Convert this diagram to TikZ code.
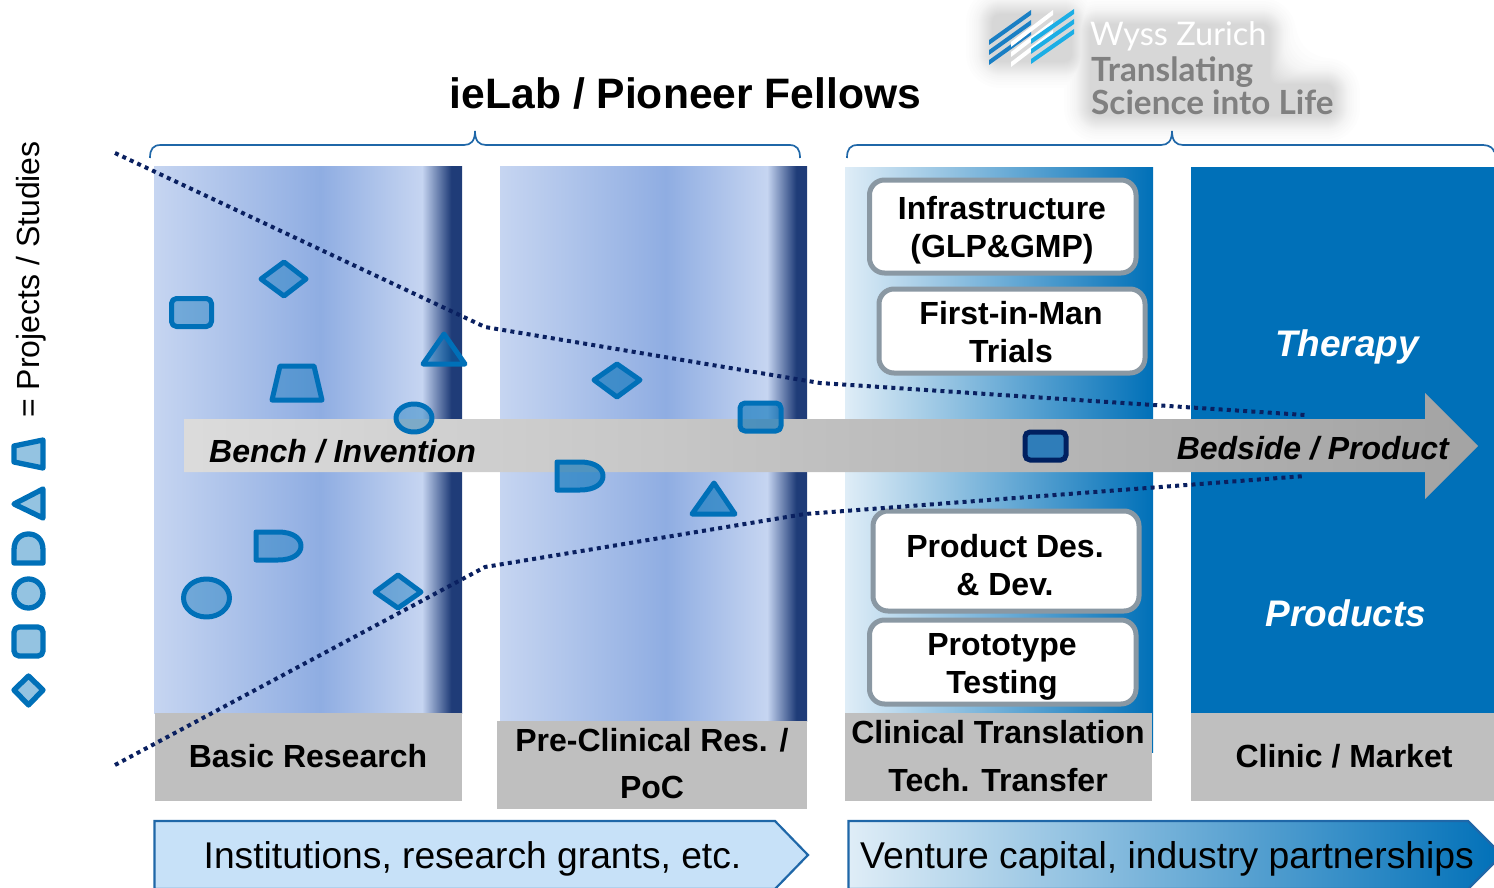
\documentclass[tikz,border=0pt]{standalone}
\usepackage{fontspec}
\setmainfont{Liberation Sans}
\newfontfamily\logofont{Lato}
\usetikzlibrary{calc}
\definecolor{blu}{HTML}{0070B8}
\definecolor{navy}{HTML}{0A2060}
\definecolor{darkedge}{HTML}{002060}
\definecolor{darkfill}{HTML}{2F7DB9}
\definecolor{graylab}{HTML}{BFBFBF}
\definecolor{boxedge}{HTML}{8A98A3}
\definecolor{bracecol}{HTML}{1F67A8}
\definecolor{collight}{HTML}{C6D5F1}
\definecolor{colmid}{HTML}{8FADE2}
\definecolor{coldark}{HTML}{1F3C78}
\definecolor{transl}{HTML}{DFEDF7}
\definecolor{paleblue}{HTML}{C7E1F8}
\definecolor{logoblue}{HTML}{1A7FC4}
\definecolor{logocyan}{HTML}{1CAEE5}
\pgfdeclarehorizontalshading{colshade}{100bp}{color(0bp)=(collight); color(25bp)=(collight); color(52bp)=(colmid); color(68.5bp)=(collight); color(73.25bp)=(coldark); color(100bp)=(coldark)}
\newcommand{\pfont}[1]{\fontsize{#1}{#1}\selectfont}
\tikzset{
  x=1pt,y=-1pt,
  colband/.style={draw=none,shading=colshade},
  lab/.style={fill=graylab,draw=none},
  labtext/.style={font=\pfont{32}\bfseries,align=center,text=black},
  brace/.style={draw=bracecol,line width=1.7pt},
  icon/.style={draw=blu,line width=5pt,line join=round,fill=blu,fill opacity=.4},
  icontwo/.style={draw=blu,line width=5pt,line join=round,fill=blu,fill opacity=.6},
  iconk/.style={draw=blu,line width=5.300pt,line join=round,fill=blu,fill opacity=.42},
  whitebox/.style={draw=boxedge,fill=white,line width=5pt,rounded corners=15pt},
  boxtext/.style={font=\pfont{32}\bfseries,align=center,text=black,inner sep=0pt},
  dotline/.style={draw=navy,line width=4pt,dash pattern=on 4pt off 4.200pt},
  onarrow/.style={font=\pfont{32}\bfseries\itshape,text=black,inner sep=0pt},
  inblue/.style={font=\pfont{37}\bfseries\itshape,text=white,inner sep=0pt},
}
\begin{document}
\begin{tikzpicture}
\useasboundingbox (0,0) rectangle (1494,888);
% logo halo
\foreach \s in {28,25,22,20,18,16,15,14,13,12,11,10,9,8,7,6,5,4,3,2}{
  \fill[black,opacity=.009,line join=round,rounded corners=\s+6pt]
    (1092-\s,26-\s) -- (1268+\s,26-\s) -- (1268+\s,86-\s) -- (1332+\s,86-\s) -- (1332+\s,114+\s) -- (1092-\s,114+\s) -- cycle
    (994-\s,16-\s) -- (1070+\s,16-\s) -- (1070+\s,60+\s) -- (994-\s,60+\s) -- cycle;
}
\foreach \ya in {40,50,60}{\fill[logoblue] (989,\ya) -- (1031,\ya-30) -- (1031,\ya-25) -- (989,\ya+5) -- cycle;}
\foreach \ya in {42,52,62}{\fill[white] (1011,\ya) -- (1053,\ya-32) -- (1053,\ya-27) -- (1011,\ya+5) -- cycle;}
\foreach \ya in {39,49,59}{\fill[logocyan] (1031,\ya) -- (1074,\ya-30) -- (1074,\ya-25) -- (1031,\ya+5) -- cycle;}
\node[inner sep=0pt,anchor=west,text=white,font=\logofont\pfont{32.500}] (wz) at (1090,36.500) {Wyss Zurich};
\node[inner sep=0pt,anchor=west,text=black!50,font=\logofont\bfseries\pfont{33.300}] (tr) at (1091,72) {Translating};
\node[inner sep=0pt,anchor=west,text=black!50,font=\logofont\bfseries\pfont{33.300}] (si) at (1091,102.500) {Science into Life};
% title
\node[inner sep=0pt,font=\pfont{42.600}\bfseries] (title) at (685.5,93) {ieLab / Pioneer Fellows};
% braces
\draw[brace] (150,158) .. controls (150,149) and (153,145) .. (161,145) -- (464,145) .. controls (471,145) and (475,141) .. (475,131) .. controls (475,141) and (479,145) .. (486,145) -- (789,145) .. controls (797,145) and (800,149) .. (800,158);
\draw[brace] (847,158) .. controls (847,149) and (850,145) .. (858,145) -- (1161,145) .. controls (1168,145) and (1172,141) .. (1172,131) .. controls (1172,141) and (1176,145) .. (1183,145) -- (1483,145) .. controls (1490,145) and (1494,149) .. (1494,152);
% columns
\path[colband] (154,167) rectangle (462,713);
\path[colband] (500,167) rectangle (807,721);
\path[left color=transl,right color=blu] (845,168) rectangle (1153,752);
\fill[blu] (1191,167) rectangle (1494,713);
% labels
\fill[lab] (155,713) rectangle (462,801);
\fill[lab] (497,721) rectangle (807,809);
\fill[lab] (845,713) rectangle (1152,801);
\fill[lab] (1191,713) rectangle (1494,801);
\node[labtext] (l1) at (308,756) {Basic Research};
\node[labtext] (l2a) at (652,740) {Pre-Clinical Res. /};
\node[labtext] (l2b) at (652,787.500) {PoC};
\node[labtext] (l3a) at (998,732) {Clinical Translation};
\node[labtext] (l3b) at (998,780) {Tech. Transfer};
\node[labtext] (l4) at (1344,756) {Clinic / Market};
% boxes
\draw[whitebox] (869.5,180) rectangle (1136,273);
\draw[whitebox] (879,289) rectangle (1145,373);
\draw[whitebox] (873,511) rectangle (1139,611);
\draw[whitebox] (869.5,620) rectangle (1136,704);
\node[boxtext] (b1) at (1002,230) {Infrastructure\\[6pt](GLP\&GMP)};
\node[boxtext] (b2) at (1011,332) {First-in-Man\\[6pt]Trials};
\node[boxtext] (b3) at (1005,565) {Product Des.\\[6pt]\& Dev.};
\node[boxtext] (b4) at (1002,667) {Prototype\\[6pt]Testing};
\node[inblue] (t1) at (1347,347) {Therapy};
\node[inblue] (t2) at (1346,613) {Products};
% central arrow
\path[left color=black!14,right color=black!36] (184,419) -- (1425,419) -- (1425,393) -- (1478,446) -- (1425,499) -- (1425,472) -- (184,472) -- cycle;
\node[onarrow,anchor=west] (bench) at (209,451) {Bench / Invention};
\node[onarrow,anchor=east] (bed) at (1449,448) {Bedside / Product};
% icons on field
\draw[icon] (284,262) -- (306,279) -- (284,296) -- (261,279) -- cycle;
\draw[icon,rounded corners=5pt] (171.500,298.500) rectangle (211.500,326.500);
\draw[icon] (280,366) -- (314,366) -- (322,400) -- (272,400) -- cycle;
\draw[icon] (444,334) -- (465,364) -- (423,364) -- cycle;
\draw[icon] (414,418) ellipse (18 and 14);
\draw[icon] (256,532) -- (278,532) .. controls (294,532) and (301,539) .. (301,546) .. controls (301,553) and (294,560) .. (278,560) -- (256,560) -- cycle;
\draw[icon] (206.500,598) ellipse (23 and 19);
\draw[icon] (398,575) -- (421,592) -- (398,608) -- (375,592) -- cycle;
\draw[icontwo] (617,364) -- (640,380) -- (617,397) -- (594,380) -- cycle;
\draw[icontwo,rounded corners=5pt] (740,403) rectangle (781,431);
\draw[icontwo] (557,462) -- (580,462) .. controls (596,462) and (603,469) .. (603,476) .. controls (603,483) and (596,490) .. (580,490) -- (557,490) -- cycle;
\draw[icontwo] (714,483) -- (735,514) -- (692,514) -- cycle;
\draw[draw=darkedge,line width=5pt,fill=darkfill,rounded corners=5pt] (1025,432) rectangle (1066,460);
% left legend
\draw[iconk] (14,446) -- (43,440) -- (43,468) -- (14,462) -- cycle;
\draw[iconk] (14,504) -- (43,489) -- (43,518) -- cycle;
\draw[iconk] (14,563) -- (14,550) .. controls (14,539) and (21,534) .. (28.500,534) .. controls (36,534) and (43,539) .. (43,550) -- (43,563) -- cycle;
\draw[iconk] (28.500,593.500) circle (14.500);
\draw[iconk,rounded corners=5pt] (14,627) rectangle (43,656);
\draw[iconk] (28.500,676) -- (43,690) -- (28.500,705) -- (14,690) -- cycle;
\node[inner sep=0pt,rotate=90,anchor=west,font=\pfont{32}] (ps) at (31,418) {= Projects / Studies};
% dotted lines
\coordinate (u0) at (115,153); \coordinate (u1) at (485,327); \coordinate (u2) at (820,383); \coordinate (u3) at (1305,415);
\coordinate (d0) at (115,765); \coordinate (d1) at (485,567); \coordinate (d2) at (805,514); \coordinate (d3) at (1305,476);
\draw[dotline] (u0) -- (u1) -- (u2) -- (u3);
\draw[dotline] (d0) -- (d1) -- (d2) -- (d3);
% bottom arrows
\draw[draw=bracecol,line width=2.2pt,fill=paleblue] (154.500,821) -- (775,821) -- (808,855) -- (775,889) -- (154.500,889) -- cycle;
\begin{scope}
\clip (0,0) rectangle (1494,888);
\draw[draw=bracecol,line width=2.2pt,left color=transl,right color=blu] (848.500,821) -- (1468,821) -- (1502,855) -- (1468,889) -- (848.500,889) -- cycle;
\end{scope}
\node[inner sep=0pt,font=\pfont{37.200}] (i1) at (472.500,859) {Institutions, research grants, etc.};
\node[inner sep=0pt,font=\pfont{37.300},anchor=west] (i2) at (860,859) {Venture capital, industry partnerships};
\end{tikzpicture}
\end{document}
